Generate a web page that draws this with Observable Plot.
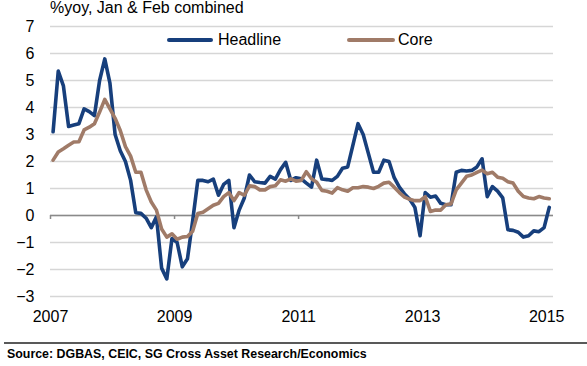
<!DOCTYPE html>
<html>
<head>
<meta charset="utf-8">
<script src="https://cdn.jsdelivr.net/npm/d3@7"></script>
<script src="https://cdn.jsdelivr.net/npm/@observablehq/plot@0.6"></script>
<style>
  html, body { margin: 0; padding: 0; background: #fff; }
  body { width: 587px; height: 366px; overflow: hidden; font-family: "Liberation Sans", Arial, sans-serif; }
  #wrap { position: relative; width: 587px; height: 366px; }
  #title { height: 16px; line-height: 16px; font-size: 16px; padding-left: 50px; color: #000; white-space: nowrap; }
  #chart svg { display: block; overflow: visible; }
  .sw { position: absolute; height: 4px; border-radius: 2px; }
  .lt { position: absolute; font-size: 16px; line-height: 16px; color: #000; white-space: nowrap; }
  #rule { position: absolute; left: 4px; right: 0; top: 342px; height: 0; border-top: 2px solid #595959; }
  #source { position: absolute; left: 7px; top: 347px; font-size: 12.4px; line-height: 14px; font-weight: bold; color: #000; white-space: nowrap; }
</style>
</head>
<body>
<div id="wrap">
  <div id="title"></div>
  <div id="chart"></div>
  <div id="legend"></div>
  <div id="rule"></div>
  <div id="source"></div>
</div>
<script>
// ---- data (monthly, Jan 2007 .. Jan 2015) ----
const startYear = 2007;
const seriesNames = ["Headline", "Core"];
const headline = [
  3.1, 5.35, 4.8, 3.3, 3.35, 3.4, 3.95, 3.85, 3.7, 5.0, 5.8, 4.9,
  3.0, 2.4, 2.0, 1.3, 0.1, 0.08, -0.1, -0.45, -0.05, -1.95, -2.35, -0.85,
  -1.0, -1.9, -1.6, -0.2, 1.3, 1.3, 1.25, 1.35, 0.75, 1.15, 1.3, -0.45,
  0.2, 0.65, 1.5, 1.25, 1.22, 1.2, 1.45, 1.35, 1.7, 1.97, 1.3, 1.4,
  1.36, 1.2, 1.05, 2.05, 1.35, 1.33, 1.3, 1.45, 1.75, 1.8, 2.6, 3.4,
  3.0, 2.3, 1.6, 1.6, 2.05, 2.0, 1.4, 1.05, 0.8, 0.6, 0.3, -0.75,
  0.85, 0.68, 0.72, 0.45, 0.4, 0.4, 1.6, 1.67, 1.65, 1.67, 1.8, 2.1,
  0.7, 1.07, 0.9, 0.65, -0.53, -0.55, -0.62, -0.8, -0.75, -0.57, -0.6, -0.45,
  0.3
];
const core = [
  2.05, 2.35, 2.47, 2.6, 2.72, 2.73, 3.17, 3.27, 3.4, 3.83, 4.3, 3.95,
  3.6, 3.15, 2.55, 2.2, 1.6, 1.6, 0.95, 0.5, 0.2, -0.5, -0.8, -0.68,
  -0.88, -0.8, -0.78, -0.58, 0.07, 0.12, 0.25, 0.38, 0.45, 0.7, 0.85, 0.55,
  0.85, 0.75, 1.1, 1.07, 0.95, 0.95, 1.07, 1.1, 1.32, 1.27, 1.36, 1.27,
  1.3, 1.62, 1.36, 1.23, 0.93, 0.9, 0.83, 1.03, 0.95, 0.9, 1.03, 1.03,
  1.07, 1.05, 1.0, 1.08, 1.2, 1.23, 1.05, 0.85, 0.68, 0.6, 0.55, 0.55,
  0.7, 0.15, 0.2, 0.2, 0.4, 0.43, 0.95, 1.2, 1.45, 1.5, 1.6, 1.68,
  1.55, 1.6, 1.42, 1.38, 1.25, 1.2, 0.9, 0.7, 0.65, 0.62, 0.7, 0.65,
  0.62
];
const xTicks = [2007, 2009, 2011, 2013, 2015];
const yTicks = [-3, -2, -1, 0, 1, 2, 3, 4, 5, 6, 7];
const titleText = "%yoy, Jan & Feb combined";
const sourceText = "Source: DGBAS, CEIC, SG Cross Asset Research/Economics";

// ---- styles ----
const colors = {Headline: "#173f7c", Core: "#a07b68"};

// ---- build table ----
const rows = [];
headline.forEach((v, i) => rows.push({t: startYear + (i + 0.5) / 12, v, s: "Headline"}));
core.forEach((v, i) => rows.push({t: startYear + (i + 0.5) / 12, v, s: "Core"}));

document.getElementById("title").textContent = titleText;
document.getElementById("source").textContent = sourceText;

const chart = Plot.plot({
  width: 587,
  height: 314,
  marginTop: 10,
  marginBottom: 34,
  marginLeft: 50,
  marginRight: 34,
  style: {fontFamily: "'Liberation Sans', Arial, sans-serif", fontSize: "16px", color: "#000", background: "transparent", overflow: "visible"},
  x: {domain: [2007, 2015.11], ticks: xTicks, tickFormat: d => String(d), tickSize: 0, tickPadding: 14, label: null},
  y: {domain: [-3, 7], ticks: yTicks, tickSize: 0, tickPadding: 16, label: null},
  color: {domain: seriesNames, range: seriesNames.map(s => colors[s])},
  marks: [
    Plot.ruleY(yTicks, {stroke: "#d6d6d6", strokeWidth: 1.3}),
    Plot.ruleY([0], {stroke: "#8a8a8a", strokeWidth: 1.5}),
    Plot.ruleX(xTicks, {x: d => d, y1: 0, y2: 0, insetBottom: -4, stroke: "#8a8a8a", strokeWidth: 1.5}),
    Plot.line(rows.filter(d => d.s === "Headline"), {x: "t", y: "v", stroke: "s", strokeWidth: 3.6, strokeLinejoin: "round", strokeLinecap: "round"}),
    Plot.line(rows.filter(d => d.s === "Core"), {x: "t", y: "v", stroke: "s", strokeWidth: 3.6, strokeLinejoin: "round", strokeLinecap: "round"})
  ]
});
document.getElementById("chart").appendChild(chart);

// ---- legend (HTML overlay) ----
const legend = document.getElementById("legend");
const legendLayout = [
  {name: "Headline", sx: 167, sw: 46, tx: 218},
  {name: "Core", sx: 347, sw: 48, tx: 398}
];
legendLayout.forEach(l => {
  const sw = document.createElement("div");
  sw.className = "sw";
  sw.style.left = l.sx + "px"; sw.style.top = "38px"; sw.style.width = l.sw + "px";
  sw.style.background = colors[l.name];
  legend.appendChild(sw);
  const t = document.createElement("div");
  t.className = "lt";
  t.style.left = l.tx + "px"; t.style.top = "32px";
  t.textContent = l.name;
  legend.appendChild(t);
});
</script>
</body>
</html>
